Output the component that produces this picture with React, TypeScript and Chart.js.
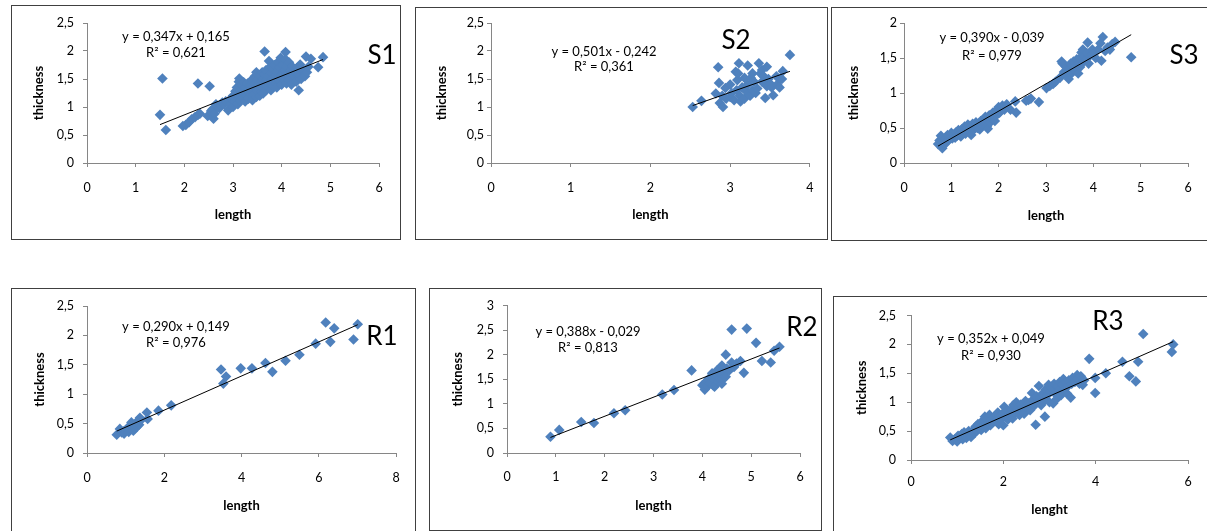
import React, { useEffect, useRef } from "react";
import { Chart, registerables } from "chart.js";
Chart.register(...registerables);

type Pt = [number, number];

// ---------------- data ----------------
const s1Points: Pt[] = [
  [1.5, 0.86], [1.55, 1.51], [1.62, 0.59], [1.97, 0.66], [2.03, 0.68], [2.1, 0.73], [2.15, 0.78], [2.22, 0.82],
  [2.28, 0.86], [2.32, 0.88], [2.28, 1.42], [2.52, 1.37], [2.48, 0.84], [2.55, 0.93], [2.58, 0.96], [2.6, 0.79],
  [2.62, 0.88], [2.65, 1.05], [2.68, 1.0], [2.72, 0.98], [2.75, 1.04], [2.78, 1.08], [2.82, 1.05], [2.85, 1.1],
  [2.9, 0.94], [2.92, 1.12], [2.95, 1.05], [2.97, 1.15], [3.0, 1.0], [3.0, 1.2], [3.02, 1.1], [3.05, 1.28],
  [3.05, 1.15], [3.08, 1.35], [3.1, 1.05], [3.1, 1.22], [3.12, 1.45], [3.13, 1.51], [3.15, 1.3], [3.15, 1.12],
  [3.18, 1.4], [3.2, 1.18], [3.22, 1.25], [3.22, 1.44], [3.25, 1.35], [3.25, 1.1], [3.28, 1.2], [3.3, 1.3],
  [3.3, 1.42], [3.32, 1.15], [3.35, 1.25], [3.35, 1.38], [3.38, 1.48], [3.4, 1.12], [3.4, 1.32], [3.42, 1.22],
  [3.45, 1.42], [3.45, 1.55], [3.48, 1.18], [3.48, 1.62], [3.5, 1.3], [3.5, 1.48], [3.52, 1.38], [3.55, 1.2],
  [3.55, 1.55], [3.58, 1.45], [3.58, 1.28], [3.6, 1.62], [3.6, 1.35], [3.62, 1.5], [3.62, 1.24], [3.65, 1.4],
  [3.65, 1.99], [3.65, 1.58], [3.68, 1.3], [3.68, 1.66], [3.7, 1.48], [3.72, 1.36], [3.72, 1.56], [3.74, 1.82],
  [3.75, 1.7], [3.75, 1.42], [3.78, 1.3], [3.78, 1.6], [3.8, 1.5], [3.82, 1.38], [3.82, 1.68], [3.85, 1.45],
  [3.85, 1.75], [3.88, 1.55], [3.9, 1.35], [3.9, 1.62], [3.92, 1.8], [3.95, 1.48], [3.95, 1.7], [3.98, 1.88],
  [4.0, 1.4], [4.0, 1.58], [4.02, 1.75], [4.05, 1.5], [4.05, 1.65], [4.08, 1.98], [4.08, 1.85], [4.1, 1.42],
  [4.1, 1.72], [4.12, 1.58], [4.15, 1.8], [4.15, 1.48], [4.18, 1.65], [4.2, 1.4], [4.22, 1.72], [4.25, 1.55],
  [4.28, 1.62], [4.3, 1.45], [4.32, 1.7], [4.35, 1.3], [4.35, 1.58], [4.38, 1.76], [4.4, 1.5], [4.45, 1.65],
  [4.48, 1.55], [4.5, 1.9], [4.52, 1.62], [4.55, 1.72], [4.6, 1.86], [4.75, 1.71], [4.85, 1.89],
];
const s1Trend = [0.347, 0.165];
const s1R2 = 0.621;
const s1XTicks = [0, 1, 2, 3, 4, 5, 6];
const s1YTicks = [0, 0.5, 1, 1.5, 2, 2.5];

const s2Points: Pt[] = [
  [2.53, 1.0], [2.64, 1.11], [2.82, 1.24], [2.85, 1.71], [2.86, 1.43], [2.87, 1.07], [2.9, 1.2], [2.91, 1.0],
  [2.94, 1.34], [2.95, 1.15], [3.0, 1.18], [3.0, 1.4], [3.02, 1.25], [3.05, 1.12], [3.07, 1.63], [3.08, 1.3],
  [3.09, 1.48], [3.1, 1.6], [3.11, 1.78], [3.12, 1.2], [3.13, 1.1], [3.15, 1.35], [3.18, 1.15], [3.18, 1.52],
  [3.2, 1.28], [3.22, 1.74], [3.22, 1.4], [3.25, 1.2], [3.26, 1.52], [3.28, 1.3], [3.28, 1.6], [3.3, 1.45],
  [3.32, 1.25], [3.34, 1.33], [3.36, 1.78], [3.38, 1.6], [3.4, 1.66], [3.4, 1.45], [3.42, 1.55], [3.44, 1.16],
  [3.46, 1.72], [3.46, 1.37], [3.48, 1.5], [3.5, 1.42], [3.52, 1.35], [3.54, 1.21], [3.58, 1.55], [3.59, 1.4],
  [3.62, 1.5], [3.62, 1.35], [3.66, 1.64], [3.65, 1.5], [3.75, 1.93],
];
const s2Trend = [0.501, -0.242];
const s2R2 = 0.361;
const s2XTicks = [0, 1, 2, 3, 4];
const s2YTicks = [0, 0.5, 1, 1.5, 2, 2.5];

const s3Points: Pt[] = [
  [0.72, 0.27], [0.75, 0.32], [0.78, 0.39], [0.81, 0.21], [0.82, 0.3], [0.85, 0.26], [0.88, 0.35], [0.9, 0.3],
  [0.92, 0.4], [0.95, 0.33], [0.98, 0.38], [1.0, 0.43], [1.02, 0.35], [1.05, 0.4], [1.08, 0.36], [1.1, 0.44],
  [1.12, 0.39], [1.15, 0.47], [1.18, 0.42], [1.2, 0.38], [1.22, 0.48], [1.25, 0.44], [1.28, 0.52], [1.3, 0.42],
  [1.32, 0.5], [1.35, 0.55], [1.38, 0.46], [1.4, 0.52], [1.42, 0.4], [1.45, 0.56], [1.48, 0.48], [1.5, 0.53],
  [1.52, 0.58], [1.55, 0.5], [1.58, 0.56], [1.6, 0.48], [1.62, 0.6], [1.65, 0.55], [1.68, 0.62], [1.7, 0.58],
  [1.72, 0.66], [1.75, 0.52], [1.77, 0.49], [1.78, 0.62], [1.8, 0.68], [1.82, 0.58], [1.85, 0.64], [1.88, 0.72],
  [1.9, 0.66], [1.92, 0.6], [1.95, 0.75], [1.98, 0.7], [2.0, 0.8], [2.02, 0.72], [2.05, 0.78], [2.08, 0.82],
  [2.12, 0.76], [2.17, 0.84], [2.25, 0.76], [2.35, 0.88], [2.37, 0.72], [2.58, 0.89], [2.63, 0.9], [2.68, 0.92],
  [2.85, 0.87], [3.01, 1.07], [3.08, 1.1], [3.15, 1.13], [3.2, 1.16], [3.3, 1.22], [3.33, 1.45], [3.35, 1.42],
  [3.38, 1.3], [3.42, 1.38], [3.45, 1.25], [3.48, 1.2], [3.5, 1.35], [3.51, 1.26], [3.52, 1.42], [3.55, 1.3],
  [3.58, 1.45], [3.6, 1.33], [3.62, 1.38], [3.65, 1.48], [3.68, 1.28], [3.7, 1.42], [3.72, 1.5], [3.72, 1.37],
  [3.75, 1.58], [3.78, 1.62], [3.8, 1.45], [3.82, 1.52], [3.85, 1.48], [3.86, 1.57], [3.88, 1.72], [3.9, 1.42],
  [3.95, 1.55], [3.98, 1.62], [4.02, 1.58], [4.05, 1.5], [4.1, 1.62], [4.15, 1.71], [4.17, 1.46], [4.2, 1.8],
  [4.25, 1.6], [4.3, 1.65], [4.35, 1.62], [4.4, 1.7], [4.46, 1.73], [4.8, 1.51],
];
const s3Trend = [0.39, -0.039];
const s3R2 = 0.979;
const s3XTicks = [0, 1, 2, 3, 4, 5, 6];
const s3YTicks = [0, 0.5, 1, 1.5, 2];

const r1Points: Pt[] = [
  [0.77, 0.31], [0.85, 0.41], [0.9, 0.35], [0.95, 0.37], [0.96, 0.33], [1.0, 0.38], [1.05, 0.42], [1.08, 0.36],
  [1.1, 0.46], [1.12, 0.4], [1.15, 0.52], [1.18, 0.44], [1.2, 0.38], [1.22, 0.48], [1.25, 0.42], [1.28, 0.5],
  [1.3, 0.45], [1.32, 0.55], [1.35, 0.48], [1.37, 0.6], [1.4, 0.56], [1.55, 0.69], [1.57, 0.58], [1.85, 0.72],
  [2.18, 0.81], [3.47, 1.42], [3.53, 1.18], [3.6, 1.3], [3.98, 1.44], [4.27, 1.44], [4.62, 1.53], [4.8, 1.38],
  [5.14, 1.57], [5.5, 1.67], [5.92, 1.86], [6.18, 2.22], [6.3, 1.89], [6.4, 2.12], [6.9, 1.93], [7.01, 2.19],
];
const r1Trend = [0.29, 0.149];
const r1R2 = 0.976;
const r1XTicks = [0, 2, 4, 6, 8];
const r1YTicks = [0, 0.5, 1, 1.5, 2, 2.5];

const r2Points: Pt[] = [
  [0.89, 0.33], [1.07, 0.47], [1.52, 0.63], [1.78, 0.61], [2.19, 0.81], [2.42, 0.87], [3.18, 1.19], [3.42, 1.28],
  [3.78, 1.68], [4.0, 1.38], [4.04, 1.4], [4.05, 1.29], [4.08, 1.45], [4.1, 1.35], [4.12, 1.5], [4.15, 1.42],
  [4.18, 1.55], [4.2, 1.62], [4.22, 1.38], [4.25, 1.48], [4.25, 1.35], [4.28, 1.58], [4.3, 1.68], [4.32, 1.45],
  [4.35, 1.52], [4.38, 1.6], [4.4, 1.41], [4.4, 1.78], [4.42, 1.5], [4.45, 1.65], [4.48, 1.55], [4.48, 2.0],
  [4.5, 1.72], [4.55, 1.68], [4.6, 1.84], [4.6, 2.51], [4.65, 1.75], [4.7, 1.82], [4.78, 1.87], [4.85, 1.63],
  [4.91, 2.53], [5.1, 2.24], [5.22, 1.87], [5.4, 1.84], [5.47, 2.08], [5.58, 2.16],
];
const r2Trend = [0.388, -0.029];
const r2R2 = 0.813;
const r2XTicks = [0, 1, 2, 3, 4, 5, 6];
const r2YTicks = [0, 0.5, 1, 1.5, 2, 2.5, 3];

const r3Points: Pt[] = [
  [0.85, 0.39], [0.9, 0.33], [0.95, 0.36], [1.0, 0.32], [1.02, 0.42], [1.05, 0.38], [1.1, 0.45], [1.12, 0.36],
  [1.15, 0.48], [1.18, 0.42], [1.2, 0.38], [1.25, 0.5], [1.28, 0.44], [1.3, 0.4], [1.35, 0.52], [1.38, 0.47],
  [1.4, 0.58], [1.42, 0.5], [1.45, 0.62], [1.48, 0.55], [1.5, 0.6], [1.52, 0.52], [1.55, 0.68], [1.58, 0.6],
  [1.6, 0.75], [1.62, 0.55], [1.65, 0.7], [1.68, 0.64], [1.7, 0.78], [1.72, 0.6], [1.75, 0.7], [1.78, 0.66],
  [1.8, 0.74], [1.85, 0.68], [1.88, 0.82], [1.9, 0.62], [1.92, 0.76], [1.95, 0.7], [1.98, 0.8], [2.0, 0.6],
  [2.02, 0.92], [2.05, 0.75], [2.08, 0.85], [2.1, 0.7], [2.15, 0.82], [2.18, 0.88], [2.2, 0.72], [2.22, 0.95],
  [2.25, 0.82], [2.28, 1.0], [2.3, 0.88], [2.35, 0.78], [2.38, 0.96], [2.4, 0.9], [2.45, 0.8], [2.48, 1.02],
  [2.5, 0.92], [2.55, 0.98], [2.58, 0.86], [2.62, 1.16], [2.65, 1.05], [2.68, 0.95], [2.7, 0.61], [2.72, 1.1],
  [2.75, 1.0], [2.77, 1.28], [2.8, 1.08], [2.82, 0.95], [2.85, 1.15], [2.88, 1.02], [2.9, 0.75], [2.92, 1.22],
  [2.95, 1.12], [2.98, 1.3], [3.0, 1.0], [3.02, 1.18], [3.05, 1.25], [3.08, 0.98], [3.1, 1.32], [3.12, 1.15],
  [3.15, 1.05], [3.18, 1.28], [3.2, 1.2], [3.22, 1.35], [3.25, 1.12], [3.28, 1.3], [3.3, 1.4], [3.32, 1.22],
  [3.35, 1.35], [3.38, 1.15], [3.4, 1.28], [3.42, 1.38], [3.46, 1.08], [3.48, 1.32], [3.5, 1.42], [3.55, 1.35],
  [3.6, 1.47], [3.62, 1.4], [3.65, 1.32], [3.68, 1.45], [3.72, 1.3], [3.75, 1.38], [3.86, 1.75], [3.99, 1.16],
  [3.99, 1.42], [4.22, 1.5], [4.58, 1.7], [4.73, 1.45], [4.87, 1.36], [4.92, 1.7], [5.03, 2.18], [5.65, 1.87],
  [5.68, 2.0],
];
const r3Trend = [0.352, 0.049];
const r3R2 = 0.93;
const r3XTicks = [0, 2, 4, 6];
const r3YTicks = [0, 0.5, 1, 1.5, 2, 2.5];

// ---------------- layout / style ----------------
const FONT = 'Lato, "Open Sans", "Noto Sans", sans-serif';
const BLUE = "#4F81BD";
const AXIS = "#868686";
const FRAME = "#404040";
const TICK_SIZE = 12.5;

type Rect = { l: number; t: number; r: number; b: number };
interface Panel {
  name: string;
  points: Pt[];
  trend: number[];
  r2: number;
  xTicks: number[];
  yTicks: number[];
  xTitle: string;
  box: Rect;
  plot: Rect;
  yTitleX: number;
  xTitleY: number;
  yGap: number;
  xDist: number;
  label: [number, number];
  eq: [number, number, number];
}

const panels: Panel[] = [
  { name: "S1", points: s1Points, trend: s1Trend, r2: s1R2, xTicks: s1XTicks, yTicks: s1YTicks, xTitle: "length",
    box: { l: 11, t: 5, r: 400, b: 239 }, plot: { l: 87, t: 23, r: 379, b: 163 }, yTitleX: 39, xTitleY: 215,
    yGap: 13, xDist: 25, label: [382, 56], eq: [176, 37, 53] },
  { name: "S2", points: s2Points, trend: s2Trend, r2: s2R2, xTicks: s2XTicks, yTicks: s2YTicks, xTitle: "length",
    box: { l: 415, t: 7, r: 827, b: 239 }, plot: { l: 491, t: 23, r: 813, b: 163 }, yTitleX: 442, xTitleY: 215,
    yGap: 7, xDist: 25, label: [736, 41], eq: [604, 52, 67] },
  { name: "S3", points: s3Points, trend: s3Trend, r2: s3R2, xTicks: s3XTicks, yTicks: s3YTicks, xTitle: "length",
    box: { l: 831, t: 7, r: 1208, b: 240 }, plot: { l: 904, t: 23, r: 1188, b: 163 }, yTitleX: 854, xTitleY: 216,
    yGap: 7, xDist: 25, label: [1184, 56], eq: [992, 38, 56] },
  { name: "R1", points: r1Points, trend: r1Trend, r2: r1R2, xTicks: r1XTicks, yTicks: r1YTicks, xTitle: "length",
    box: { l: 11, t: 288, r: 415, b: 533 }, plot: { l: 87, t: 306, r: 396, b: 453 }, yTitleX: 40, xTitleY: 506,
    yGap: 13, xDist: 25, label: [382, 337], eq: [176, 327, 343] },
  { name: "R2", points: r2Points, trend: r2Trend, r2: r2R2, xTicks: r2XTicks, yTicks: r2YTicks, xTitle: "length",
    box: { l: 429, t: 288, r: 821, b: 530 }, plot: { l: 507, t: 305, r: 800, b: 453 }, yTitleX: 458, xTitleY: 506,
    yGap: 13, xDist: 24, label: [802, 328], eq: [588, 332, 348] },
  { name: "R3", points: r3Points, trend: r3Trend, r2: r3R2, xTicks: r3XTicks, yTicks: r3YTicks, xTitle: "lenght",
    box: { l: 833, t: 296, r: 1208, b: 533 }, plot: { l: 911, t: 312, r: 1188, b: 460 }, yTitleX: 862, xTitleY: 510,
    yGap: 15, xDist: 22, label: [1108, 322], eq: [991, 339, 356] },
];

const comma = (v: number, d?: number) =>
  (d === undefined ? String(Math.round(v * 1000) / 1000) : v.toFixed(d)).replace(".", ",");

function ScatterPanel({ p }: { p: Panel }) {
  const ref = useRef<HTMLCanvasElement>(null);
  const cl = p.box.l + 1;
  const ct = p.box.t + 1;
  const cw = p.box.r - p.box.l - 1;
  const ch = p.box.b - p.box.t - 1;

  useEffect(() => {
    if (!ref.current) return;
    const pl = p.plot.l - cl;
    const pt = p.plot.t - ct;
    const pr = p.plot.r - cl;
    const pb = p.plot.b - ct;
    const xs = p.points.map((d) => d[0]);
    const minX = Math.min(...xs);
    const maxX = Math.max(...xs);
    const [a, b] = p.trend;
    const eqText = `y = ${comma(a, 3)}x ${b < 0 ? "-" : "+"} ${comma(Math.abs(b), 3)}`;
    const r2Text = `R² = ${comma(p.r2, 3)}`;
    const tickFont = { family: FONT, size: TICK_SIZE };
    const titleFont = { family: FONT, size: 13, weight: "bold" as const };
    const tickHalf = (TICK_SIZE * 1.2) / 2;

    const annot = {
      id: "annot",
      afterDraw(chart: any) {
        const ctx = chart.ctx as CanvasRenderingContext2D;
        ctx.save();
        ctx.fillStyle = "#000";
        ctx.textAlign = "center";
        ctx.textBaseline = "middle";
        ctx.font = `13px ${FONT}`;
        ctx.fillText(eqText, p.eq[0] - cl, p.eq[1] - ct);
        ctx.fillText(r2Text, p.eq[0] - cl, p.eq[2] - ct);
        ctx.font = `26px ${FONT}`;
        ctx.fillText(p.name, p.label[0] - cl, p.label[1] - ct);
        ctx.restore();
      },
    };

    const chart = new Chart(ref.current, {
      type: "scatter",
      data: {
        datasets: [
          {
            type: "line",
            data: [
              { x: minX, y: a * minX + b },
              { x: maxX, y: a * maxX + b },
            ],
            borderColor: "#000",
            borderWidth: 1,
            pointRadius: 0,
            fill: false,
            tension: 0,
          } as any,
          {
            type: "scatter",
            data: p.points.map(([x, y]) => ({ x, y })),
            pointStyle: "rectRot",
            pointRadius: 5.3,
            backgroundColor: BLUE,
            borderColor: BLUE,
            borderWidth: 0,
          },
        ],
      },
      options: {
        responsive: false,
        animation: false,
        events: [],
        layout: { padding: { top: pt, left: 0, right: cw - pr, bottom: 0 } },
        plugins: { legend: { display: false }, tooltip: { enabled: false } },
        scales: {
          x: {
            type: "linear",
            position: "bottom",
            min: p.xTicks[0],
            max: p.xTicks[p.xTicks.length - 1],
            afterFit: (s: any) => {
              s.height = ch - pb;
            },
            afterBuildTicks: (s: any) => {
              s.ticks = p.xTicks.map((v) => ({ value: v }));
            },
            grid: { display: true, drawOnChartArea: false, drawTicks: true, tickLength: 4, color: AXIS },
            border: { display: true, color: AXIS, width: 1 },
            ticks: {
              padding: p.xDist - 4 - tickHalf,
              color: "#000",
              font: tickFont,
              maxRotation: 0,
              autoSkip: false,
              callback: (v: any) => comma(Number(v)),
            },
            title: {
              display: true,
              text: p.xTitle,
              color: "#000",
              font: titleFont,
              padding: { top: 0, bottom: ch - (p.xTitleY - ct) - 7.8 },
            },
          },
          y: {
            type: "linear",
            position: "left",
            min: p.yTicks[0],
            max: p.yTicks[p.yTicks.length - 1],
            afterFit: (s: any) => {
              s.width = pl;
            },
            afterBuildTicks: (s: any) => {
              s.ticks = p.yTicks.map((v) => ({ value: v }));
            },
            grid: { display: true, drawOnChartArea: false, drawTicks: true, tickLength: 4, color: AXIS },
            border: { display: true, color: AXIS, width: 1 },
            ticks: {
              padding: p.yGap - 4,
              color: "#000",
              font: tickFont,
              autoSkip: false,
              callback: (v: any) => comma(Number(v)),
            },
            title: {
              display: true,
              text: "thickness",
              color: "#000",
              font: titleFont,
              padding: { top: p.yTitleX - cl - 7.8, bottom: 0 },
            },
          },
        },
      },
      plugins: [annot],
    });
    return () => chart.destroy();
  }, []);

  return (
    <>
      <div
        style={{
          position: "absolute",
          left: p.box.l,
          top: p.box.t,
          width: p.box.r - p.box.l + 1,
          height: p.box.b - p.box.t + 1,
          border: `1px solid ${FRAME}`,
          boxSizing: "border-box",
          background: "#fff",
        }}
      />
      <canvas
        ref={ref}
        width={cw}
        height={ch}
        style={{ position: "absolute", left: cl, top: ct, width: cw, height: ch }}
      />
    </>
  );
}

export default function App() {
  return (
    <div
      style={{
        position: "absolute",
        left: 0,
        top: 0,
        width: 1207,
        height: 531,
        overflow: "hidden",
        background: "#fff",
      }}
    >
      {panels.map((p) => (
        <ScatterPanel key={p.name} p={p} />
      ))}
    </div>
  );
}
